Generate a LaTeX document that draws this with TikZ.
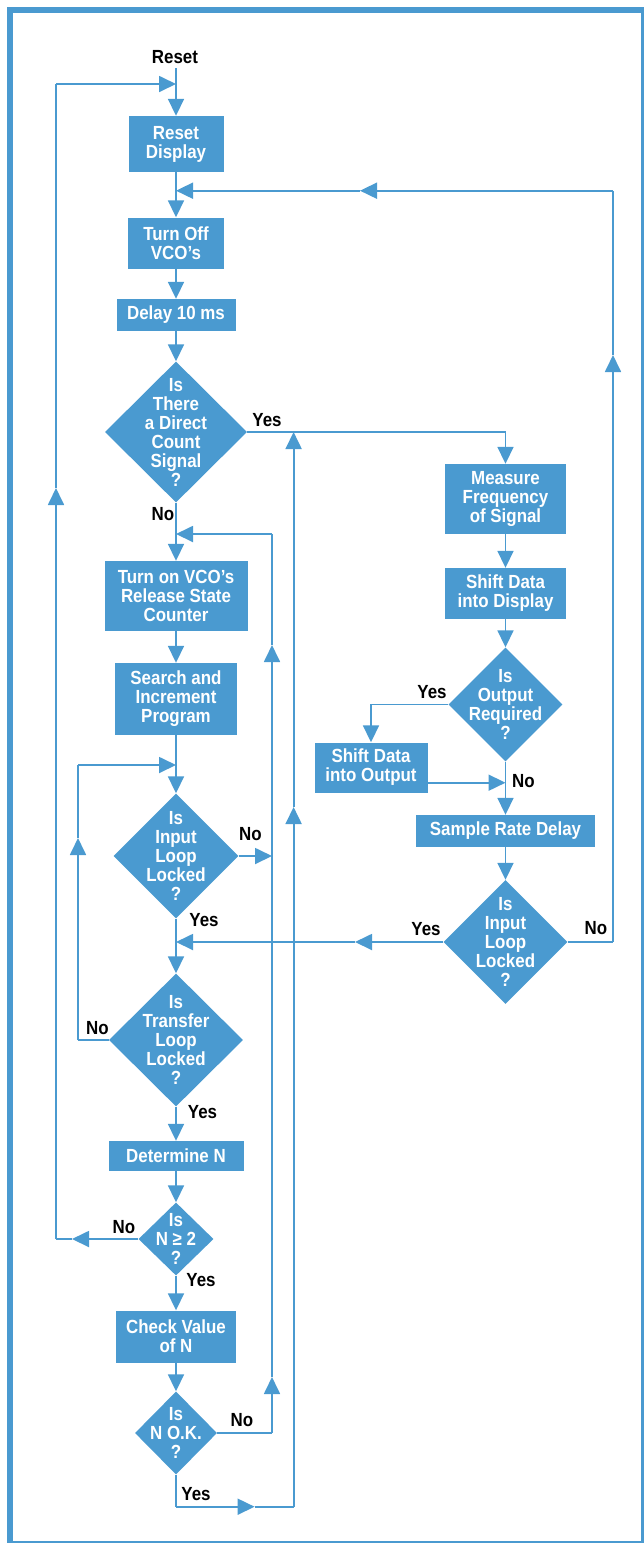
\documentclass[tikz,border=0pt]{standalone}
\usepackage{fontspec}
\newfontfamily\hpfont[FakeStretch=0.89]{Liberation Sans}
\usetikzlibrary{shapes.geometric,arrows.meta}
\definecolor{hpblue}{RGB}{74,154,208}
\begin{document}
\begin{tikzpicture}[x=1pt,y=-1pt,
  every node/.style={font=\hpfont\bfseries\fontsize{19}{19}\selectfont},
  box/.style={rectangle, fill=hpblue, text=white, align=center, inner sep=0pt},
  dia/.style={diamond, fill=hpblue, inner sep=0pt},
  dtext/.style={text=white, align=center, inner sep=0pt},
  lbl/.style={text=black, inner sep=0pt},
  flow/.style={draw=hpblue, line width=1.8pt},
  arr/.style={flow, -{Triangle[length=17pt,width=16pt]}},
]
\useasboundingbox (0,0) rectangle (644,1543);
\draw[hpblue, line width=6pt] (10,10) rectangle (644,1544);

% ---------- left column ----------
\node[lbl] (reset) at (175,57) {Reset};
\node[box, minimum width=95pt, minimum height=56pt] (rd) at (176,144) {Reset\\Display};
\node[box, minimum width=96pt, minimum height=51pt] (toff) at (176,243) {Turn Off\\VCO’s};
\node[box, minimum width=119pt, minimum height=32pt] (delay) at (176,315) {Delay 10 ms};
\node[dia, minimum width=142pt, minimum height=141pt,
  label={[dtext]center:{Is\\There\\a Direct\\Count\\Signal\\?}}] (d1) at (176,432) {};
\node[box, minimum width=143pt, minimum height=70pt] (tvco) at (176,596) {Turn on VCO’s\\Release State\\Counter};
\node[box, minimum width=122pt, minimum height=72pt] (search) at (176,699) {Search and\\Increment\\Program};
\node[dia, minimum width=125pt, minimum height=125pt,
  label={[dtext]center:{Is\\Input\\Loop\\Locked\\?}}] (d2) at (176,856) {};
\node[dia, minimum width=134pt, minimum height=133pt,
  label={[dtext]center:{Is\\Transfer\\Loop\\Locked\\?}}] (d3) at (176,1040) {};
\node[box, minimum width=135pt, minimum height=30pt] (detn) at (176,1156) {Determine N};
\node[dia, minimum width=75pt, minimum height=73pt,
  label={[dtext]center:{Is\\N ≥ 2\\?}}] (d4) at (176,1239) {};
\node[box, minimum width=120pt, minimum height=52pt] (check) at (176,1336.5) {Check Value\\of N};
\node[dia, minimum width=82pt, minimum height=83pt,
  label={[dtext]center:{Is\\N O.K.\\?}}] (d5) at (176,1433) {};

% ---------- right column ----------
\node[box, minimum width=121pt, minimum height=70pt] (meas) at (505.5,499) {Measure\\Frequency\\of Signal};
\node[box, minimum width=121pt, minimum height=51pt] (sdd) at (505.5,593.5) {Shift Data\\into Display};
\node[dia, minimum width=114pt, minimum height=114pt,
  label={[dtext]center:{Is\\Output\\Required\\?}}] (d6) at (505.5,704.5) {};
\node[box, minimum width=113pt, minimum height=50pt] (sdo) at (371,767.5) {Shift Data\\into Output};
\node[box, minimum width=179pt, minimum height=32pt] (srd) at (505.5,831) {Sample Rate Delay};
\node[dia, minimum width=124pt, minimum height=124pt,
  label={[dtext]center:{Is\\Input\\Loop\\Locked\\?}}] (d7) at (505.5,942) {};

% ---------- labels ----------
\node[lbl] (l1) at (267,420) {Yes};
\node[lbl] (l2) at (163,514) {No};
\node[lbl] (l3) at (250.5,834) {No};
\node[lbl] (l4) at (204,920) {Yes};
\node[lbl] (l5) at (97.5,1028) {No};
\node[lbl] (l6) at (202.5,1112) {Yes};
\node[lbl] (l7) at (124,1227) {No};
\node[lbl] (l8) at (201,1280) {Yes};
\node[lbl] (l9) at (242,1420) {No};
\node[lbl] (l10) at (196,1494) {Yes};
\node[lbl] (l11) at (432,692) {Yes};
\node[lbl] (l12) at (523.5,781) {No};
\node[lbl] (l13) at (426,929) {Yes};
\node[lbl] (l14) at (596,928) {No};

% ---------- coordinates ----------
\coordinate (R0) at (176,68);
\coordinate (J0) at (176,84);
\coordinate (J1) at (176,190.7);
\coordinate (J2) at (176,534);
\coordinate (J3) at (176,765);
\coordinate (J4) at (176,942);
\coordinate (J5) at (505.5,782.7);
\coordinate (Y1) at (505.5,432);
\coordinate (L1) at (56,1239);
\coordinate (L2) at (56,84);
\coordinate (a14a) at (72,1239);
\coordinate (a14b) at (56,488);
\coordinate (R1) at (613,942);
\coordinate (R2) at (613,190.7);
\coordinate (a25a) at (613,355);
\coordinate (a25b) at (360,190.7);
\coordinate (M1) at (272,1433);
\coordinate (M2) at (272,534);
\coordinate (M3) at (272,856);
\coordinate (a17a) at (272,1377);
\coordinate (a17b) at (272,645);
\coordinate (N1) at (176,1506.7);
\coordinate (N2) at (293.6,1506.7);
\coordinate (N3) at (293.6,432);
\coordinate (a18a) at (254.6,1506.7);
\coordinate (a18b) at (293.6,807);
\coordinate (K1) at (78,1040);
\coordinate (K2) at (78,765);
\coordinate (a11) at (78,838);
\coordinate (a26) at (355,942);

% ---------- main flow ----------
\draw[flow] (R0) -- (J0);
\draw[arr] (J0) -- (rd.north);
\draw[flow] (rd.south) -- (J1);
\draw[arr] (J1) -- (toff.north);
\draw[arr] (toff) -- (delay);
\draw[arr] (delay) -- (d1);
\draw[flow] (d1.south) -- (J2);
\draw[arr] (J2) -- (tvco.north);
\draw[arr] (tvco) -- (search);
\draw[flow] (search.south) -- (J3);
\draw[arr] (J3) -- (d2.north);
\draw[flow] (d2.south) -- (J4);
\draw[arr] (J4) -- (d3.north);
\draw[arr] (d3) -- (detn);
\draw[arr] (detn) -- (d4);
\draw[arr] (d4) -- (check);
\draw[arr] (check) -- (d5);

% d1 yes -> right column
\draw[arr] (d1.east) -- (Y1) -- (meas.north);
\draw[arr] (meas) -- (sdd);
\draw[arr] (sdd) -- (d6);
\draw[arr] (d6.west) -- (sdo.north |- d6.west) -- (sdo.north);
\draw[arr] (sdo.east |- J5) -- (J5);
\draw[flow] (d6.south) -- (J5);
\draw[arr] (J5) -- (srd.north);
\draw[arr] (srd) -- (d7);

% d7 yes -> left
\draw[arr] (d7.west) -- (a26);
\draw[arr] (a26) -- (J4);

% d7 no -> top
\draw[flow] (d7.east) -- (R1);
\draw[arr] (R1) -- (a25a);
\draw[flow] (a25a) -- (R2);
\draw[arr] (R2) -- (a25b);
\draw[arr] (a25b) -- (J1);

% d4 no -> reset
\draw[arr] (d4.west) -- (a14a);
\draw[flow] (a14a) -- (L1);
\draw[arr] (L1) -- (a14b);
\draw[flow] (a14b) -- (L2);
\draw[arr] (L2) -- (J0);

% d3 no -> before d2
\draw[flow] (d3.west) -- (K1);
\draw[arr] (K1) -- (a11);
\draw[flow] (a11) -- (K2);
\draw[arr] (K2) -- (J3);

% d2 no
\draw[arr] (d2.east) -- (M3);

% d5 no -> before tvco
\draw[flow] (d5.east) -- (M1);
\draw[arr] (M1) -- (a17a);
\draw[arr] (a17a) -- (a17b);
\draw[flow] (a17b) -- (M2);
\draw[arr] (M2) -- (J2);

% d5 yes -> d1 yes line
\draw[flow] (d5.south) -- (N1);
\draw[arr] (N1) -- (a18a);
\draw[flow] (a18a) -- (N2);
\draw[arr] (N2) -- (a18b);
\draw[arr] (a18b) -- (N3);
\end{tikzpicture}
\end{document}
